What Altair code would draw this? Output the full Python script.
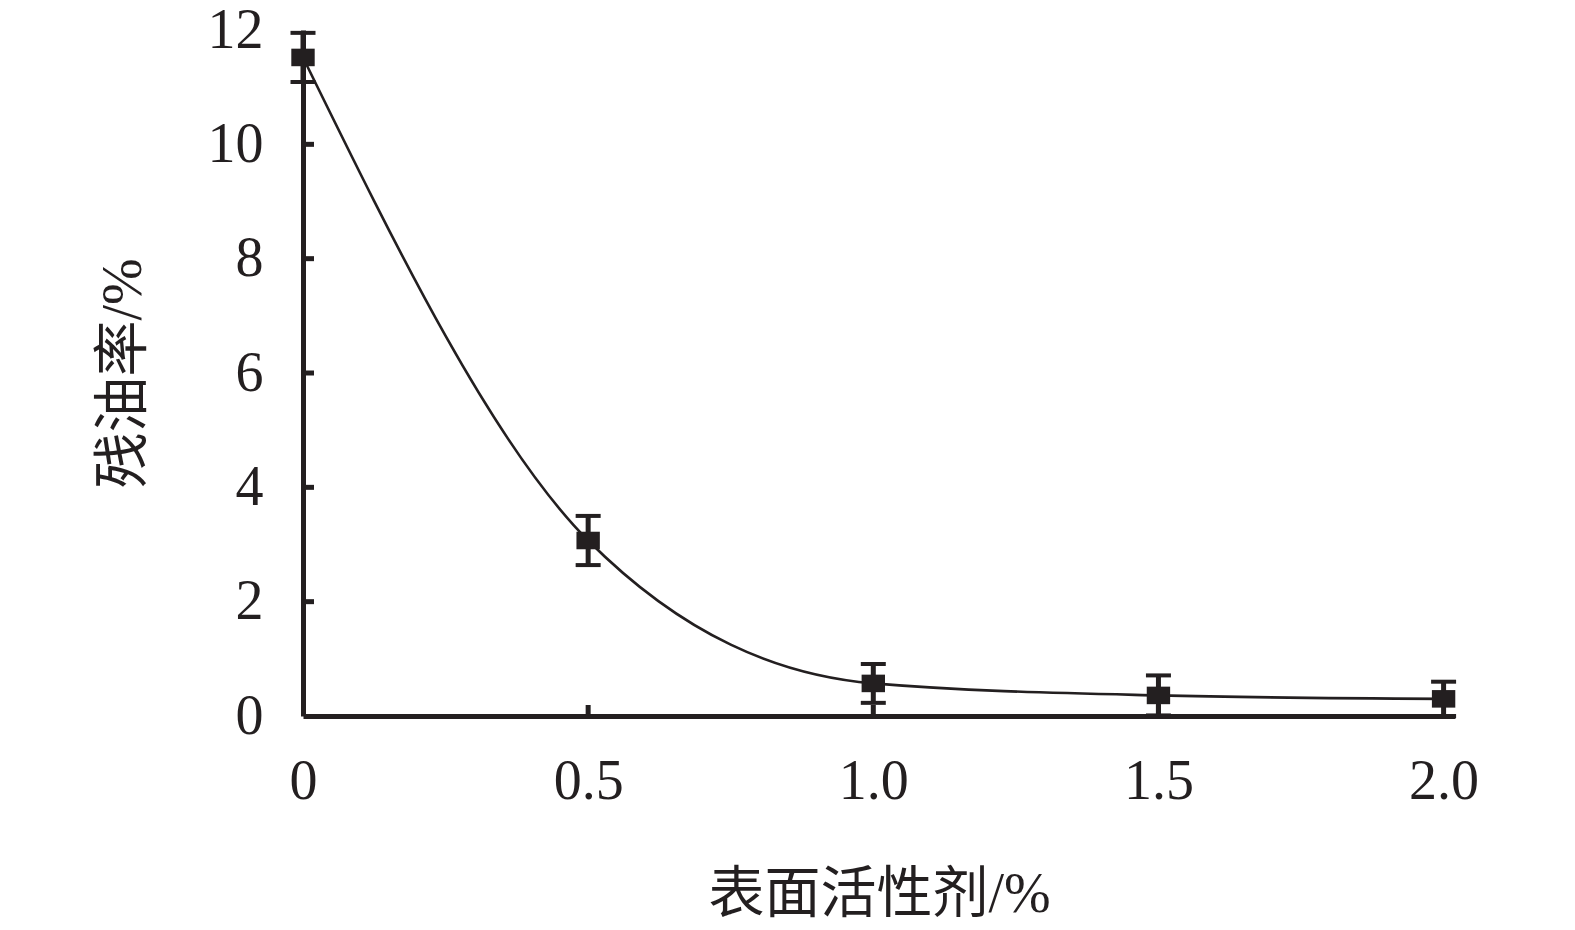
import altair as alt
import pandas as pd

# data
surfactant = [0, 0.5, 1.0, 1.5, 2.0]
residual_oil = [11.52, 3.07, 0.57, 0.36, 0.30]
error = [0.43, 0.43, 0.34, 0.35, 0.30]

x_ticks = [0, 0.5, 1.0, 1.5, 2.0]
y_ticks = [0, 2, 4, 6, 8, 10, 12]

df = pd.DataFrame({
    "x": surfactant,
    "y": residual_oil,
    "lo": [v - e for v, e in zip(residual_oil, error)],
    "hi": [v + e for v, e in zip(residual_oil, error)],
})
xt = pd.DataFrame({"x": [0.5, 1.0, 1.5]})
yt = pd.DataFrame({"y": [2, 4, 6, 8, 10]})

INK = "#231f20"
FONT = "Liberation Serif, Noto Sans CJK SC, serif"
W, H = 1152, 686

label_expr = "datum.value == 0 ? '0' : format(datum.value, '.1f')"

xscale = alt.Scale(domain=[0, 2.02], nice=False, zero=False)
yscale = alt.Scale(domain=[0, 12], nice=False)

xaxis = alt.Axis(
    values=x_ticks, labelExpr=label_expr, ticks=False, grid=False,
    domainColor=INK, domainWidth=5, labelFont=FONT, labelFontSize=56,
    labelColor=INK, labelPadding=38, title="表面活性剂/%", titleFont=FONT,
    titleFontSize=56, titleFontWeight="normal", titleColor=INK, titlePadding=58,
    labelFlush=False, labelOverlap=False,
)
yaxis = alt.Axis(
    values=y_ticks, format="d", ticks=False, grid=False,
    domainColor=INK, domainWidth=5, labelFont=FONT, labelFontSize=56,
    labelColor=INK, labelPadding=40, title="残油率/%", titleFont=FONT,
    titleFontSize=56, titleFontWeight="normal", titleColor=INK, titlePadding=55,
    labelFlush=False, labelOverlap=False,
)

base = alt.Chart(df)

curve = base.mark_line(color=INK, strokeWidth=2.6, interpolate="monotone").encode(
    x=alt.X("x:Q", scale=xscale, axis=xaxis),
    y=alt.Y("y:Q", scale=yscale, axis=yaxis),
)

stem = base.mark_rule(color=INK, strokeWidth=5).encode(
    x=alt.X("x:Q", scale=xscale), y=alt.Y("lo:Q", scale=yscale), y2="hi:Q"
)
cap_lo = base.mark_tick(color=INK, orient="horizontal", size=25, thickness=4, opacity=1).encode(
    x=alt.X("x:Q", scale=xscale), y=alt.Y("lo:Q", scale=yscale)
)
cap_hi = base.mark_tick(color=INK, orient="horizontal", size=25, thickness=4, opacity=1).encode(
    x=alt.X("x:Q", scale=xscale), y=alt.Y("hi:Q", scale=yscale)
)
square = base.mark_point(
    shape="M-1.2,-0.9L1.2,-0.9L1.2,0.9L-1.2,0.9Z", filled=True, color=INK,
    opacity=1, size=380,
).encode(x=alt.X("x:Q", scale=xscale), y=alt.Y("y:Q", scale=yscale))

xtick = alt.Chart(xt).mark_rule(color=INK, strokeWidth=5).encode(
    x=alt.X("x:Q", scale=xscale), y=alt.value(H), y2=alt.value(H - 11)
)
ytick = alt.Chart(yt).mark_rule(color=INK, strokeWidth=5).encode(
    y=alt.Y("y:Q", scale=yscale), x=alt.value(0), x2=alt.value(11)
)

chart = alt.layer(curve, stem, cap_lo, cap_hi, square, xtick, ytick).properties(
    width=W, height=H,
    background="white",
    autosize=alt.AutoSizeParams(type="none"),
    padding={"left": 295, "top": 22, "right": 100, "bottom": 210},
).configure_view(stroke=None, strokeWidth=0)

chart.save("out.html", embed_options={"renderer": "svg", "actions": False})
